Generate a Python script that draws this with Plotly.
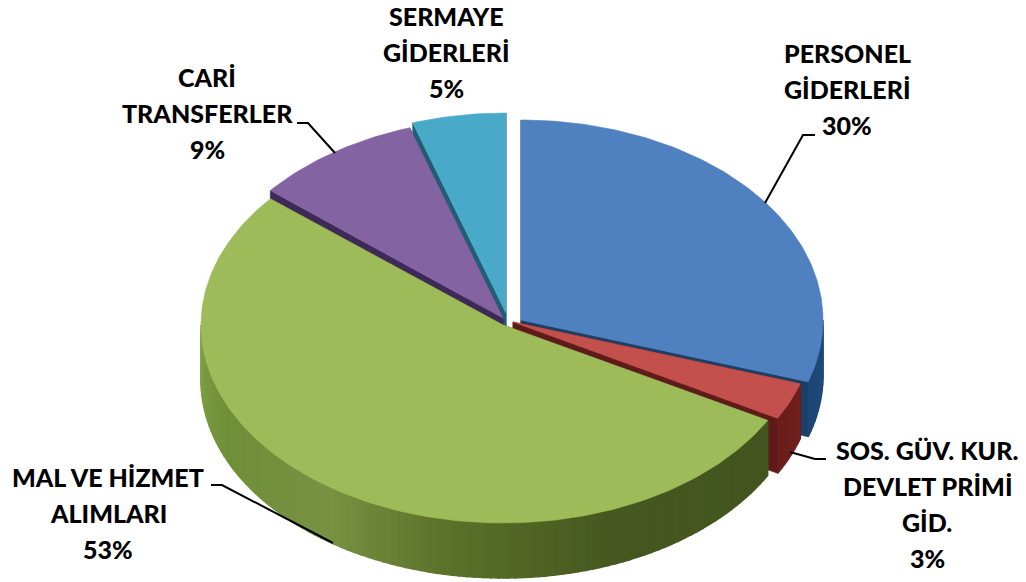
import math
import plotly.graph_objects as go

# ---- data ----
categories = ["PERSONEL GİDERLERİ", "SOS. GÜV. KUR. DEVLET PRİMİ GİD.", "MAL VE HİZMET ALIMLARI",
              "CARİ TRANSFERLER", "SERMAYE GİDERLERİ"]
values = [30, 3, 53, 9, 5]
label_lines = [["PERSONEL", "GİDERLERİ"],
               ["SOS. GÜV. KUR.", "DEVLET PRİMİ", "GİD."],
               ["MAL VE HİZMET", "ALIMLARI"],
               ["CARİ", "TRANSFERLER"],
               ["SERMAYE", "GİDERLERİ"]]

# ---- style / layout ----
W, H = 1026, 582
RX, DEPTH = 302, 55
RY = [200, 200, 198, 200, 200]
apex = [(521, 320), (513, 322), (503, 325), (503, 318), (506, 313)]
top_col = ["#4f80bf", "#c4504d", "#9dbb58", "#8463a3", "#49a9c8"]
cut_col = ["#1c3f66", "#5f1b19", "#4a5e25", "#3d2a58", "#1f5f74"]
# side gradient stops by clockwise angle (deg)
side_stops = [
    [(90, "#1f4d7e"), (108, "#1c4674")],
    [(108, "#701f1d"), (119, "#6a1e1b")],
    [(118, "#43541f"), (160, "#46581f"), (190, "#5b7029"), (215, "#789142"), (245, "#6f8f38"), (270, "#7f9f45")],
    [(300, "#3d2a58"), (345, "#3d2a58")],
    [(340, "#1f5f74"), (360, "#1f5f74")],
]
label_cx = [847, 927, 108, 207, 446]
label_y0 = [53, 450, 477, 77, 16]
line_h = 36
leaders = [[(765, 203), (803, 135), (815, 135)],
           [(790, 452), (815, 459), (826, 459)],
           [(333, 543), (222, 485), (211, 485)],
           [(335, 153), (308, 123), (297, 123)]]
FONT = dict(family="Lato, Carlito, 'Open Sans', sans-serif", size=25, color="#000000", weight=900)


def hex2rgb(c):
    return [int(c[i:i + 2], 16) for i in (1, 3, 5)]


def shade(stops, a):
    if a <= stops[0][0]:
        return stops[0][1]
    for (a0, c0), (a1, c1) in zip(stops, stops[1:]):
        if a <= a1:
            f = (a - a0) / (a1 - a0)
            r = [round(p + (q - p) * f) for p, q in zip(hex2rgb(c0), hex2rgb(c1))]
            return "rgb(%d,%d,%d)" % tuple(r)
    return stops[-1][1]


def rim(i, deg, dz=0):
    t = math.radians(deg)
    return apex[i][0] + RX * math.sin(t), apex[i][1] - RY[i] * math.cos(t) + dz


def poly(fig, pts, color, lw=0.6):
    xs = [p[0] for p in pts] + [pts[0][0]]
    ys = [p[1] for p in pts] + [pts[0][1]]
    fig.add_trace(go.Scatter(x=xs, y=ys, mode="lines", fill="toself", fillcolor=color,
                             line=dict(color=color, width=lw), hoverinfo="skip", showlegend=False))


total = sum(values)
bounds = []
c = 0
for v in values:
    bounds.append((c / total * 360, (c + v) / total * 360))
    c += v

fig = go.Figure()
for i in [4, 3, 0, 1, 2]:
    a0, a1 = bounds[i]
    ax, ay = apex[i]
    # cut faces
    for edge in (a0, a1):
        p = rim(i, edge)
        poly(fig, [(ax, ay), p, (p[0], p[1] + DEPTH), (ax, ay + DEPTH)], cut_col[i])
    # curved outer wall (front half only)
    lo, hi = max(a0, 90), min(a1, 270)
    if hi > lo:
        n = max(2, int((hi - lo) / 1.5))
        for k in range(n):
            b0 = lo + (hi - lo) * k / n
            b1 = lo + (hi - lo) * (k + 1) / n
            col = shade(side_stops[i], (b0 + b1) / 2)
            poly(fig, [rim(i, b0), rim(i, b1), rim(i, b1, DEPTH), rim(i, b0, DEPTH)], col, lw=1.5)
    # top face
    n = max(4, int((a1 - a0) / 1.0))
    pts = [(ax, ay)] + [rim(i, a0 + (a1 - a0) * k / n) for k in range(n + 1)]
    poly(fig, pts, top_col[i])

# leader lines
for ld in leaders:
    fig.add_trace(go.Scatter(x=[p[0] for p in ld], y=[p[1] for p in ld], mode="lines",
                             line=dict(color="#000000", width=2), hoverinfo="skip", showlegend=False))

# labels
annotations = []
for i, lines in enumerate(label_lines):
    for k, txt in enumerate(lines + [f"{values[i]}%"]):
        annotations.append(dict(x=label_cx[i], y=label_y0[i] + k * line_h, text=txt,
                                showarrow=False, xanchor="center", yanchor="middle", font=FONT))

fig.update_layout(
    width=W, height=H, margin=dict(l=0, r=0, t=0, b=0, pad=0), autosize=False,
    paper_bgcolor="#ffffff", plot_bgcolor="#ffffff", showlegend=False, annotations=annotations,
    xaxis=dict(range=[0, W], visible=False, fixedrange=True),
    yaxis=dict(range=[H, 0], visible=False, fixedrange=True),
)
fig.write_html("out.html", config={"displayModeBar": False},
               post_script="document.body.style.margin='0';document.body.style.overflow='hidden';")
